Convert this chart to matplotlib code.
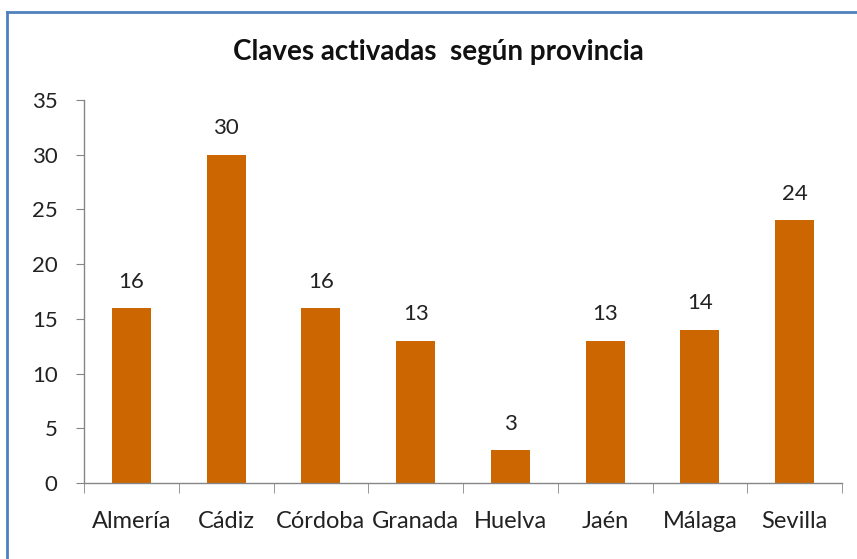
import numpy as np
import matplotlib
matplotlib.use("Agg")
import matplotlib.pyplot as plt
from matplotlib.lines import Line2D

plt.rcParams["font.family"] = ["Lato", "DejaVu Sans"]

provincias = ["Almería", "Cádiz", "Córdoba", "Granada", "Huelva", "Jaén", "Málaga", "Sevilla"]
claves = [16, 30, 16, 13, 3, 13, 14, 24]
yticks = [0, 5, 10, 15, 20, 25, 30, 35]

BAR = "#CC6600"
AXIS = "#868686"
FRAME = "#4F81BD"

fig = plt.figure(figsize=(8.57, 5.59), dpi=100)
ax = fig.add_axes([84/857, 1 - 483/559, (842 - 84)/857, (483 - 100)/559])

x = np.arange(len(provincias))
bars = ax.bar(x, claves, width=0.41, color=BAR)
for b, v in zip(bars, claves):
    ax.text(b.get_x() + b.get_width()/2, v + 1.5, str(v), ha="center", va="bottom",
            fontsize=16, color="#222222")

ax.set_xlim(-0.5, len(provincias) - 0.5)
ax.set_ylim(0, 35)
ax.set_yticks(yticks)
ax.set_xticks(x)
ax.set_xticklabels(provincias)
ax.set_xticks(np.arange(-0.5, len(provincias)), minor=True)
ax.tick_params(axis="x", which="major", length=0, pad=20, labelsize=17, labelcolor="#222222")
ax.tick_params(axis="x", which="minor", length=7, color=AXIS, direction="out")
ax.tick_params(axis="y", length=6, color=AXIS, pad=13, labelsize=16, labelcolor="#222222")
for s in ["top", "right"]:
    ax.spines[s].set_visible(False)
for s in ["left", "bottom"]:
    ax.spines[s].set_color(AXIS)
    ax.spines[s].set_linewidth(1)

fig.text(438/857, 1 - 52/559, "Claves activadas  según provincia", ha="center", va="center",
         fontsize=20, fontweight="bold", color="#111111")

# chart area border (only top and left edges visible)
fig.add_artist(Line2D([7/857, 7/857], [0, 1 - 12/559], color=FRAME, lw=2))
fig.add_artist(Line2D([7/857, 1], [1 - 12/559, 1 - 12/559], color=FRAME, lw=2))

fig.savefig("out.png", dpi=100)
